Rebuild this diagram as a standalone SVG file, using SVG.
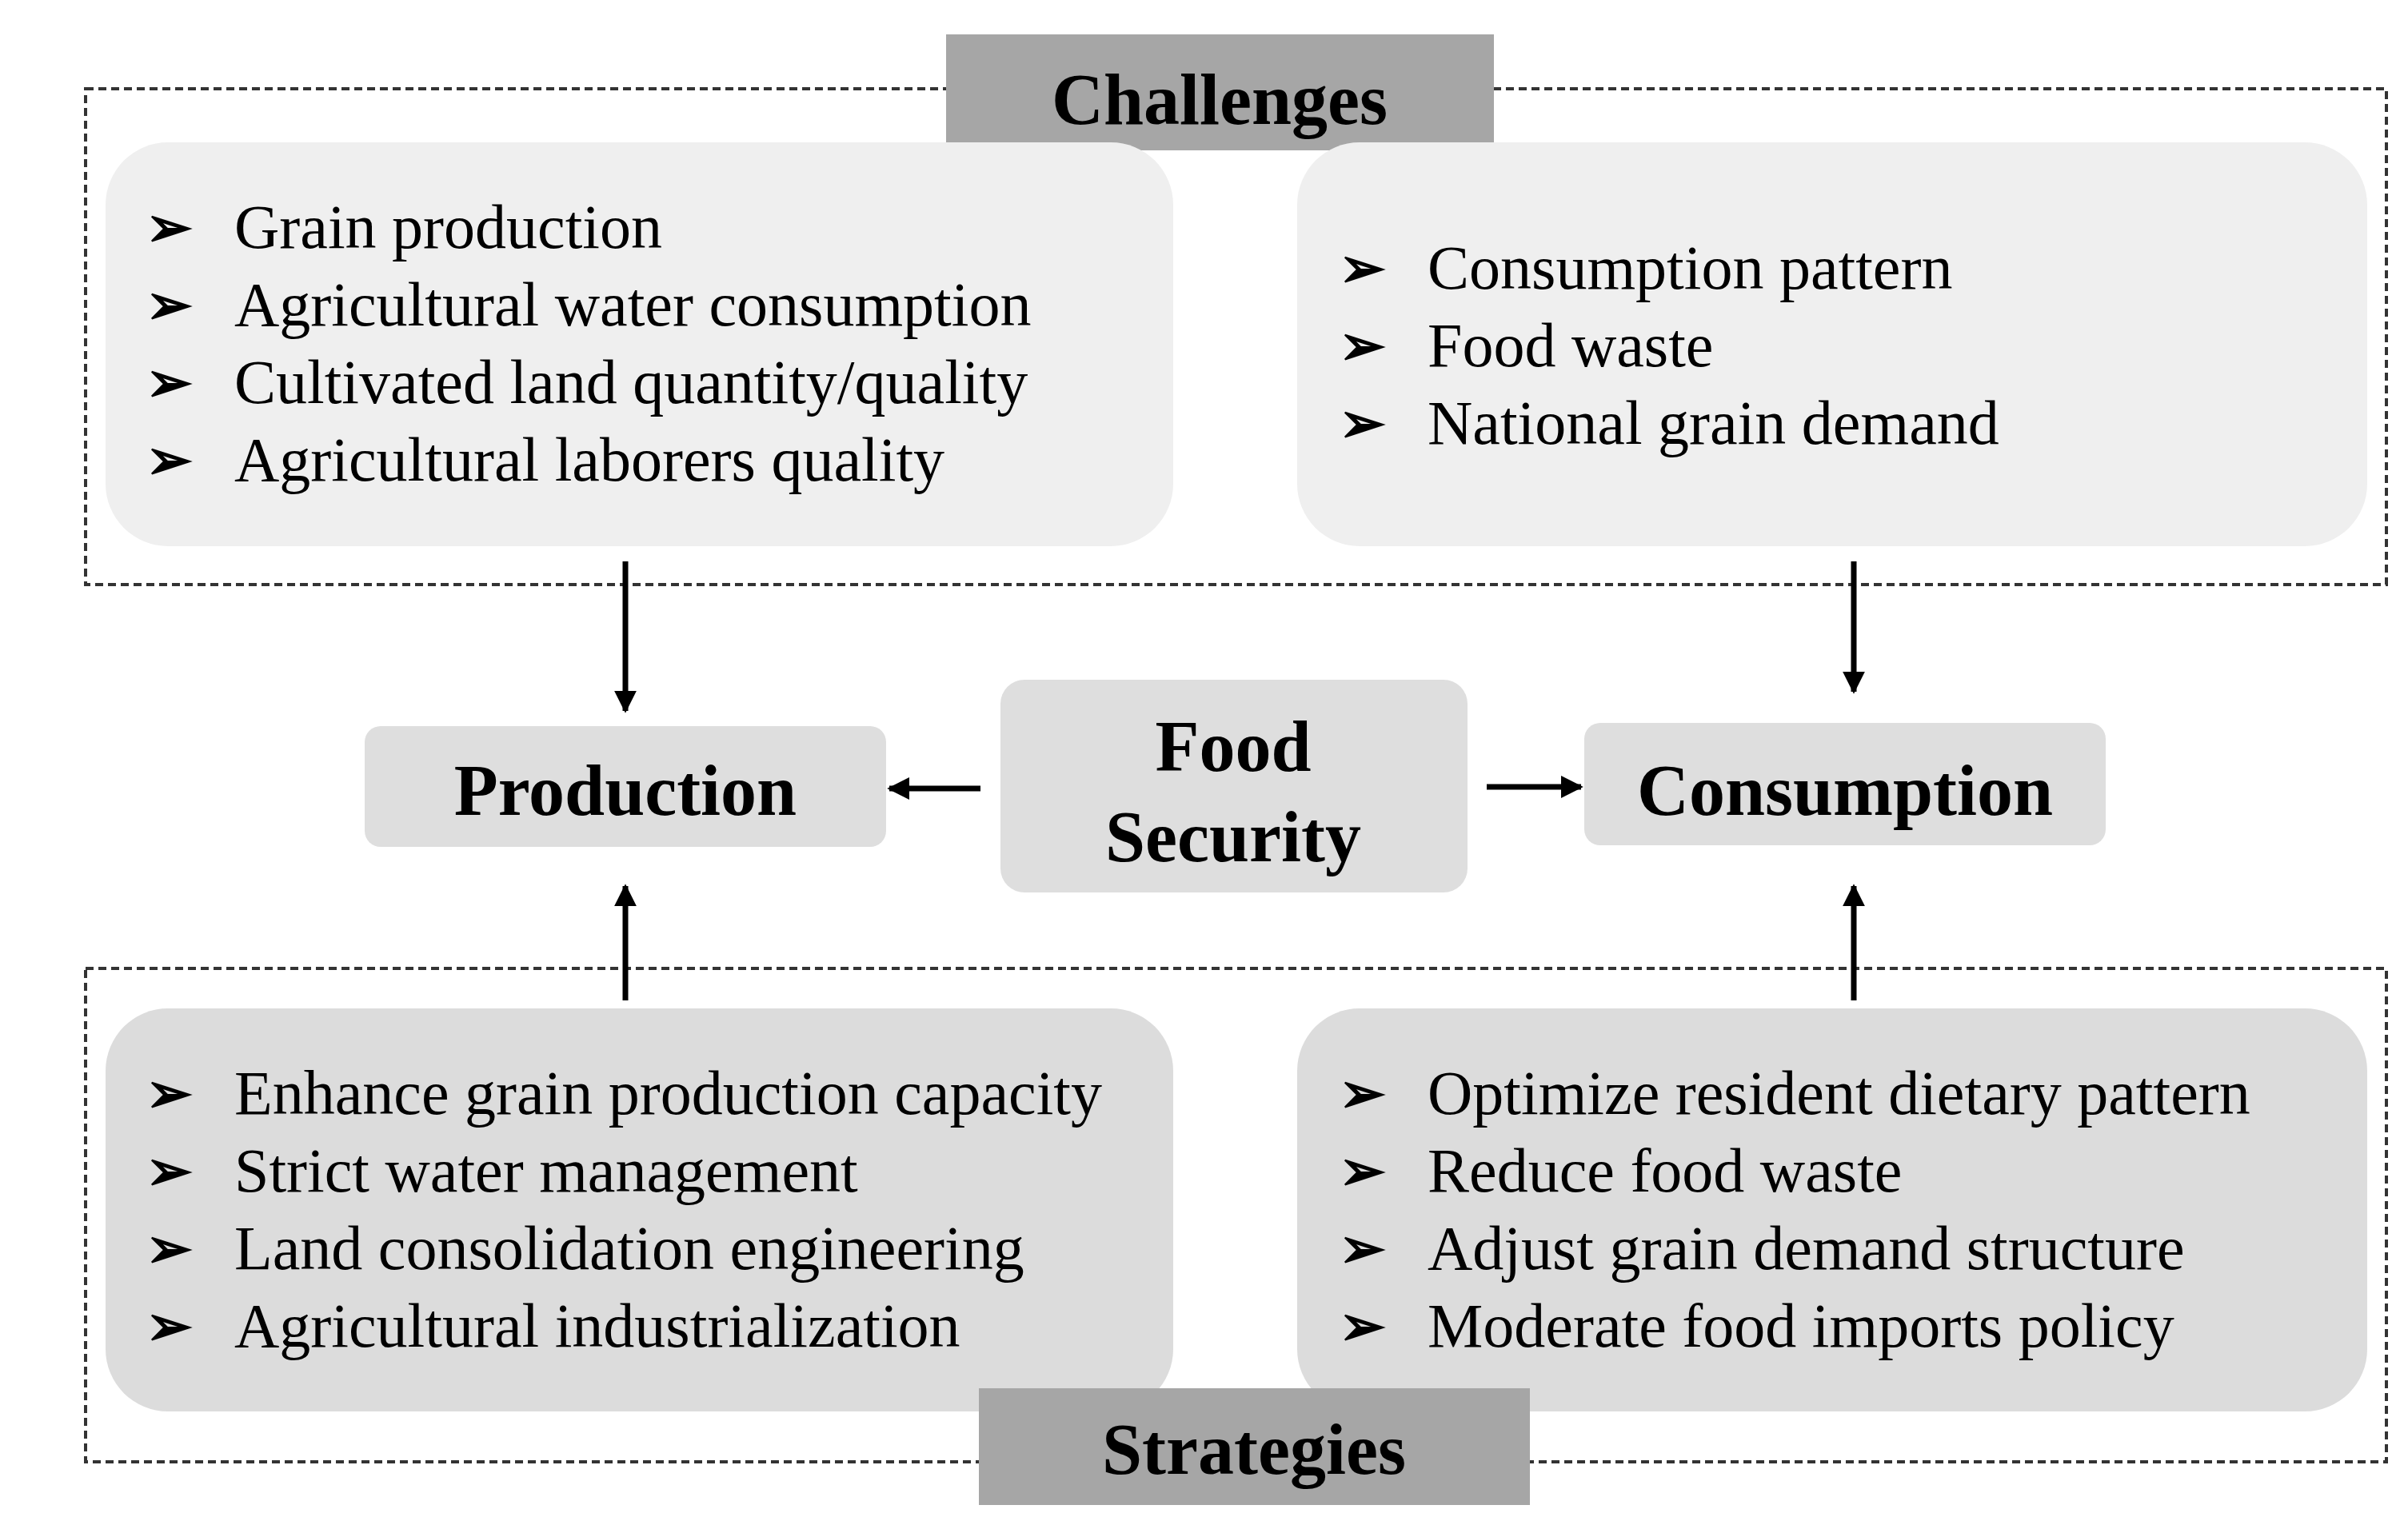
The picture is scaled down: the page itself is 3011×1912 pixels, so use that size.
<svg xmlns="http://www.w3.org/2000/svg" width="3011" height="1912" viewBox="0 0 3011 1912">
<defs>
<marker id="ah" viewBox="0 0 10 10" refX="9" refY="5" markerWidth="4" markerHeight="4" orient="auto"><path d="M0,0 L10,5 L0,10 z" fill="#000"/></marker>
<style>
text{font-family:"Liberation Serif","Times New Roman",serif;fill:#000}
.item{font-size:78px}
.bul{font-size:70px;font-family:"DejaVu Sans",sans-serif;font-weight:bold}
.title{font-size:90px;font-weight:bold;text-anchor:middle}
.dash{fill:none;stroke:#333;stroke-width:4;stroke-dasharray:10 6}
.conn{stroke:#000;stroke-width:7;fill:none;marker-end:url(#ah)}
</style>
</defs>
<rect width="3011" height="1912" fill="#fff"/>
<g id="challenges-frame">
<rect class="dash" x="107" y="111" width="2877" height="620"/>
<rect x="1183" y="43" width="685" height="145" fill="#a6a6a6"/>
<text class="title" x="1525" y="155">Challenges</text>
</g>
<g id="strategies-frame">
<rect class="dash" x="107" y="1211" width="2877" height="617"/>
</g>
<g id="challenges-production">
<rect x="132" y="178" width="1335" height="505" rx="78" fill="#efefef"/>
<g class="bul"><text x="182" y="308">➢</text><text x="182" y="405">➢</text><text x="182" y="502">➢</text><text x="182" y="599">➢</text></g>
<text class="item" x="293" y="310">Grain production</text>
<text class="item" x="293" y="407">Agricultural  water consumption</text>
<text class="item" x="293" y="504">Cultivated  land quantity/quality</text>
<text class="item" x="293" y="601">Agricultural  laborers quality</text>
</g>
<g id="challenges-consumption">
<rect x="1622" y="178" width="1338" height="505" rx="78" fill="#efefef"/>
<g class="bul"><text x="1674" y="359">➢</text><text x="1674" y="456">➢</text><text x="1674" y="553">➢</text></g>
<text class="item" x="1785" y="361">Consumption pattern</text>
<text class="item" x="1785" y="458">Food waste</text>
<text class="item" x="1785" y="555">National grain demand</text>
</g>
<g id="production">
<rect x="456" y="908" width="652" height="151" rx="20" fill="#dedede"/>
<text class="title" x="782" y="1019">Production</text>
</g>
<g id="food-security">
<rect x="1251" y="850" width="584" height="266" rx="30" fill="#dedede"/>
<text class="title" x="1542" y="964">Food</text>
<text class="title" x="1542" y="1077">Security</text>
</g>
<g id="consumption">
<rect x="1981" y="904" width="652" height="153" rx="20" fill="#dedede"/>
<text class="title" x="2307" y="1019">Consumption</text>
</g>
<g id="strategies-production">
<rect x="132" y="1261" width="1335" height="504" rx="78" fill="#dcdcdc"/>
<g class="bul"><text x="182" y="1391">➢</text><text x="182" y="1488">➢</text><text x="182" y="1585">➢</text><text x="182" y="1682">➢</text></g>
<text class="item" x="293" y="1393">Enhance grain production capacity</text>
<text class="item" x="293" y="1490">Strict water management</text>
<text class="item" x="293" y="1587">Land consolidation engineering</text>
<text class="item" x="293" y="1684">Agricultural industrialization</text>
</g>
<g id="strategies-consumption">
<rect x="1622" y="1261" width="1338" height="504" rx="78" fill="#dcdcdc"/>
<g class="bul"><text x="1674" y="1391">➢</text><text x="1674" y="1488">➢</text><text x="1674" y="1585">➢</text><text x="1674" y="1682">➢</text></g>
<text class="item" x="1785" y="1393">Optimize resident dietary pattern</text>
<text class="item" x="1785" y="1490">Reduce food waste</text>
<text class="item" x="1785" y="1587">Adjust grain demand structure</text>
<text class="item" x="1785" y="1684">Moderate food imports policy</text>
</g>
<g id="strategies-label">
<rect x="1224" y="1736" width="689" height="146" fill="#a6a6a6"/>
<text class="title" x="1568" y="1843">Strategies</text>
</g>
<g id="connectors">
<line class="conn" x1="782" y1="702" x2="782" y2="889"/>
<line class="conn" x1="2318" y1="702" x2="2318" y2="865"/>
<line class="conn" x1="1226" y1="986" x2="1112" y2="986"/>
<line class="conn" x1="1859" y1="984" x2="1977" y2="984"/>
<line class="conn" x1="782" y1="1251" x2="782" y2="1108"/>
<line class="conn" x1="2318" y1="1251" x2="2318" y2="1108"/>
</g>
</svg>
